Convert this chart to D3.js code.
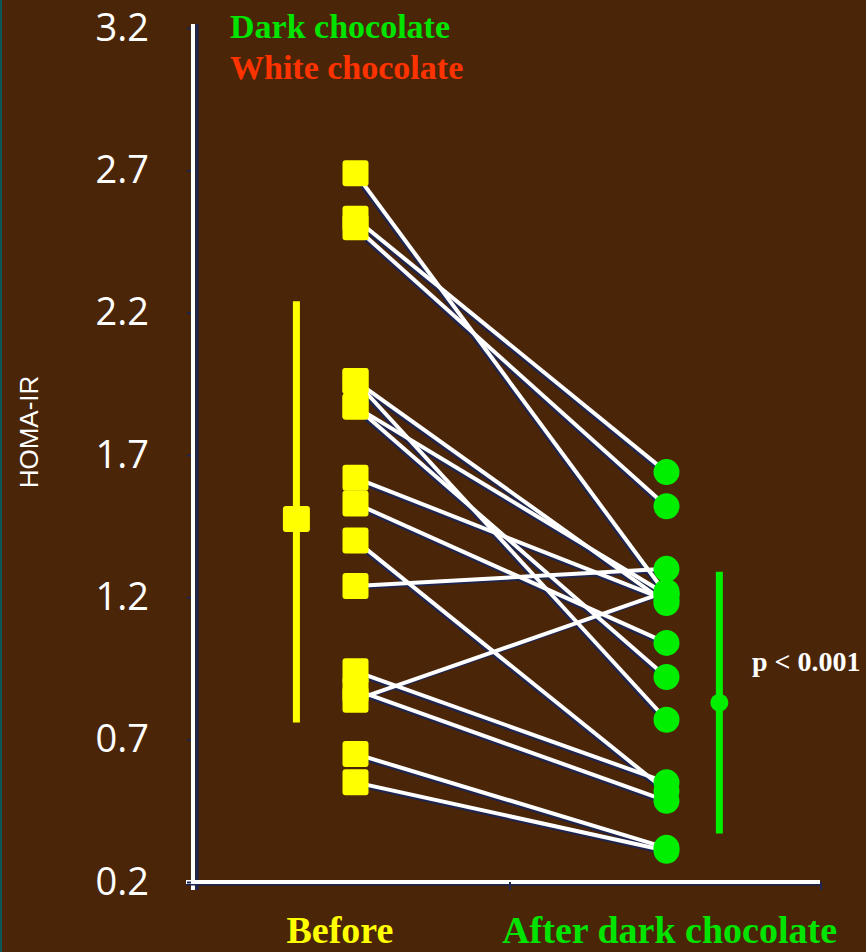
<!DOCTYPE html>
<html>
<head>
<meta charset="utf-8">
<script src="https://cdn.jsdelivr.net/npm/d3@7/dist/d3.min.js"></script>
<style>
  html, body { margin: 0; padding: 0; background: #4b2507; }
  svg { display: block; }
</style>
</head>
<body>
<div id="chart"></div>
<script>
// ---- data ----
const categories = ["Before", "After dark chocolate"];
const beforeValues = [2.69, 2.53, 2.50, 1.96, 1.96, 1.87, 1.87, 1.62, 1.53, 1.40, 1.24, 0.94, 0.84, 0.875, 0.65, 0.55];
const afterValues  = [1.21, 1.64, 1.52, 1.18, 0.77, 0.92, 1.21, 1.19, 1.04, 0.52, 1.30, 0.55, 1.22, 0.485, 0.32, 0.31];
const meanValues = [1.475, 0.83];
const errLow = [0.76, 0.37];
const errHigh = [2.24, 1.29];
const yTicks = [0.2, 0.7, 1.2, 1.7, 2.2, 2.7, 3.2];
const legendLabels = ["Dark chocolate", "White chocolate"];
const pLabel = "p < 0.001";
const yTitle = "HOMA-IR";

// ---- layout ----
const W = 866, H = 952;
const colors = {
  bg: "#4b2507", yellow: "#ffff00", green: "#00ee00", greenText: "#00e400",
  red: "#ff3300", white: "#ffffff", shadow: "#1d2550"
};
const serif = "'Liberation Serif', 'Times New Roman', serif";

const svg = d3.select("#chart").append("svg").attr("width", W).attr("height", H);
svg.append("rect").attr("width", W).attr("height", H).attr("fill", colors.bg);
svg.append("rect").attr("width", 2).attr("height", H).attr("fill", "#0b5656");

const y = d3.scaleLinear().domain([0.2, 3.2]).range([882, 28]);
const x = d3.scaleLinear().domain([0, 2]).range([200, 822]);
const catX = [x(0.5), x(1.5)];
const meanX = [x(0.31), x(1.67)];

// ---- axes ----
const axisG = svg.append("g");
axisG.append("line").attr("x1", x(0) - 3).attr("x2", x(0) - 3)
  .attr("y1", y(3.2) - 4).attr("y2", y(0.2) + 8)
  .attr("stroke", colors.shadow).attr("stroke-width", 3);
axisG.append("line").attr("x1", x(0) - 7).attr("x2", x(0) - 7)
  .attr("y1", y(3.2) - 4).attr("y2", y(0.2) + 8)
  .attr("stroke", colors.white).attr("stroke-width", 4);
axisG.append("line").attr("x1", x(0) - 14).attr("x2", x(2) - 2)
  .attr("y1", y(0.2) + 2).attr("y2", y(0.2) + 2)
  .attr("stroke", colors.shadow).attr("stroke-width", 3);
axisG.append("line").attr("x1", x(0) - 14).attr("x2", x(2) - 2)
  .attr("y1", y(0.2)).attr("y2", y(0.2))
  .attr("stroke", colors.white).attr("stroke-width", 4);
axisG.selectAll(".xt").data([1, 2]).enter().append("line")
  .attr("x1", d => x(d) - 1).attr("x2", d => x(d) - 1)
  .attr("y1", y(0.2)).attr("y2", y(0.2) + 8)
  .attr("stroke", colors.shadow).attr("stroke-width", 2);

const yAxis = d3.axisLeft(y).tickValues(yTicks).tickFormat(d3.format(".1f"))
  .tickSizeInner(4).tickSizeOuter(0).tickPadding(38);
const yg = svg.append("g").attr("transform", `translate(${x(0) - 9},0)`).call(yAxis);
yg.select(".domain").remove();
yg.selectAll(".tick line").attr("stroke", colors.shadow).attr("stroke-width", 2);
yg.selectAll(".tick text").attr("fill", colors.white)
  .attr("font-family", "'Open Sans', sans-serif").attr("font-size", 38);

svg.append("text").text(yTitle)
  .attr("transform", `translate(38,${432}) rotate(-90)`)
  .attr("text-anchor", "middle").attr("fill", colors.white)
  .attr("font-family", "'Liberation Sans', Arial, sans-serif").attr("font-size", 26);

// ---- paired lines ----
const pairs = beforeValues.map((b, i) => ({ b, a: afterValues[i] }));
const lineG = svg.append("g");
lineG.selectAll(".sh").data(pairs).enter().append("line")
  .attr("x1", catX[0]).attr("x2", catX[1])
  .attr("y1", d => y(d.b)).attr("y2", d => y(d.a))
  .attr("transform", "translate(-1.5,1.8)")
  .attr("stroke", colors.shadow).attr("stroke-width", 4);
lineG.selectAll(".ln").data(pairs).enter().append("line")
  .attr("x1", catX[0]).attr("x2", catX[1])
  .attr("y1", d => y(d.b)).attr("y2", d => y(d.a))
  .attr("stroke", colors.white).attr("stroke-width", 4);

// ---- markers ----
const sq = 26;
svg.selectAll(".sq").data(beforeValues).enter().append("rect")
  .attr("x", catX[0] - sq / 2).attr("y", d => y(d) - sq / 2)
  .attr("width", sq).attr("height", sq).attr("rx", 3)
  .attr("fill", colors.yellow);
svg.selectAll(".ci").data(afterValues).enter().append("circle")
  .attr("cx", catX[1]).attr("cy", d => y(d)).attr("r", 13)
  .attr("fill", colors.green);

// ---- mean +/- error ----
const errColors = [colors.yellow, colors.green];
svg.selectAll(".err").data(meanValues).enter().append("line")
  .attr("x1", (d, i) => meanX[i]).attr("x2", (d, i) => meanX[i])
  .attr("y1", (d, i) => y(errHigh[i])).attr("y2", (d, i) => y(errLow[i]))
  .attr("stroke", (d, i) => errColors[i]).attr("stroke-width", 7);
svg.append("rect")
  .attr("x", meanX[0] - 13.5).attr("y", y(meanValues[0]) - 13)
  .attr("width", 27).attr("height", 26).attr("rx", 3).attr("fill", colors.yellow);
svg.append("circle")
  .attr("cx", meanX[1]).attr("cy", y(meanValues[1])).attr("r", 9).attr("fill", colors.green);

// ---- texts ----
svg.append("text").text(pLabel).attr("x", 752).attr("y", 671)
  .attr("fill", colors.white).attr("font-family", serif).attr("font-weight", "bold")
  .attr("font-size", 28);

const legColors = [colors.greenText, colors.red];
svg.selectAll(".leg").data(legendLabels).enter().append("text")
  .text(d => d).attr("x", 230).attr("y", (d, i) => 38 + i * 41)
  .attr("fill", (d, i) => legColors[i]).attr("font-family", serif)
  .attr("font-weight", "bold").attr("font-size", 34);

const catColors = [colors.yellow, colors.greenText];
svg.selectAll(".cat").data(categories).enter().append("text")
  .text(d => d).attr("x", (d, i) => i === 0 ? x(0.45) : x(1.51))
  .attr("y", 943).attr("text-anchor", "middle")
  .attr("fill", (d, i) => catColors[i]).attr("font-family", serif)
  .attr("font-weight", "bold").attr("font-size", 38);
</script>
</body>
</html>
